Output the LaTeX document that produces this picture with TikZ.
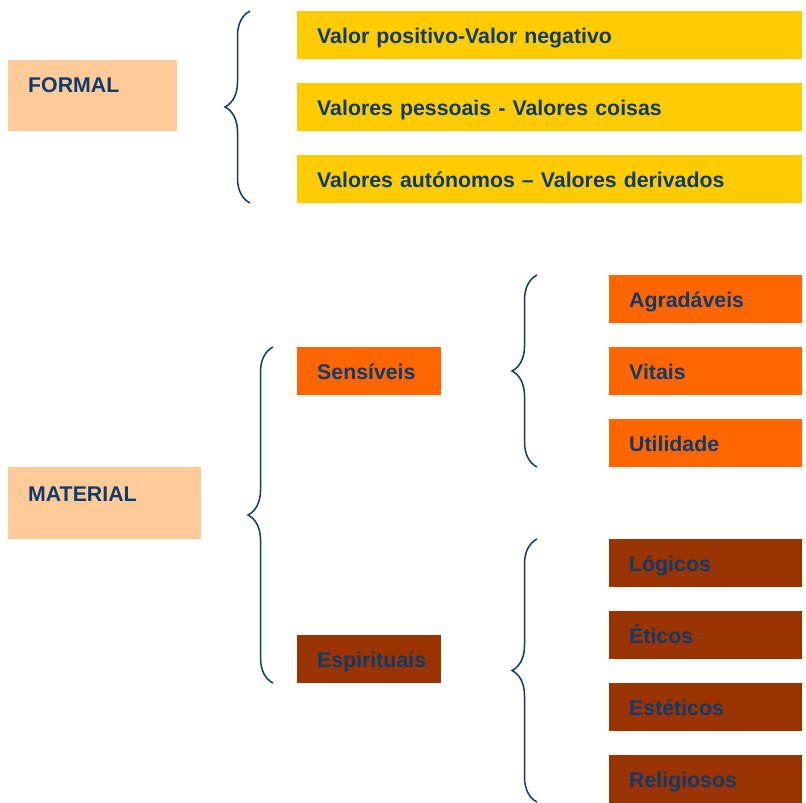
\documentclass[tikz,border=0pt]{standalone}
\usepackage{fontspec}
\setmainfont{Liberation Sans}
\usetikzlibrary{decorations.pathreplacing}
\definecolor{navy}{HTML}{0F3A6B}
\definecolor{peach}{HTML}{FFCC99}
\definecolor{gold}{HTML}{FFCC00}
\definecolor{orng}{HTML}{FF6600}
\definecolor{brwn}{HTML}{993300}
\tikzset{
  txt/.style={font=\fontsize{21.3}{24}\selectfont\bfseries, text=navy},
  box/.style={txt, anchor=north west, inner xsep=20pt, inner ysep=0pt, minimum height=48pt, align=left, text height=16pt, text depth=0pt},
  ybox/.style={box, fill=gold, text width=465pt},
  obox/.style={box, fill=orng, text width=153pt},
  bbox/.style={box, fill=brwn, text width=153pt},
  sbox/.style={box, text width=104pt},
  bigbox/.style={anchor=north west, inner sep=0pt},
  lbl/.style={txt, anchor=west, inner sep=0pt},
  curly/.style={draw=navy, line width=1.5pt, decorate, decoration={brace, amplitude=25pt, aspect=#1}},
  curly/.default=0.5
}
\begin{document}
\begin{tikzpicture}[x=1pt,y=-1pt]
\useasboundingbox (0,0) rectangle (806,803);
% FORMAL
\node[bigbox, fill=peach, minimum width=169pt, minimum height=71pt] (formal) at (8,60) {};
\node[lbl] (formalt) at (28,85.5) {FORMAL};
\node[ybox] (y1) at (297,11) {Valor positivo-Valor negativo};
\node[ybox] (y2) at (297,83) {Valores pessoais - Valores coisas};
\node[ybox] (y3) at (297,155) {Valores autónomos – Valores derivados};
\coordinate (fb1) at (250,203);
\coordinate (fb2) at (250,11);
\draw[curly] (fb1) -- (fb2);
% MATERIAL
\node[bigbox, fill=peach, minimum width=193pt, minimum height=72pt] (material) at (8,467) {};
\node[lbl] (materialt) at (28,494) {MATERIAL};
\node[sbox, fill=orng] (sens) at (297,347) {Sensíveis};
\node[sbox, fill=brwn] (esp) at (297,635) {Espirituais};
\coordinate (mb1) at (273,683);
\coordinate (mb2) at (273,347);
\draw[curly=0.5] (mb1) -- (mb2);
% Sensiveis children
\node[obox] (o1) at (609,275) {Agradáveis};
\node[obox] (o2) at (609,347) {Vitais};
\node[obox] (o3) at (609,419) {Utilidade};
\coordinate (sb1) at (537,467);
\coordinate (sb2) at (537,275);
\draw[curly] (sb1) -- (sb2);
% Espirituais children
\node[bbox] (b1) at (609,539) {Lógicos};
\node[bbox] (b2) at (609,611) {Éticos};
\node[bbox] (b3) at (609,683) {Estéticos};
\node[bbox] (b4) at (609,755) {Religiosos};
\coordinate (eb1) at (537,802);
\coordinate (eb2) at (537,539);
\draw[curly=0.5] (eb1) -- (eb2);
\end{tikzpicture}
\end{document}
